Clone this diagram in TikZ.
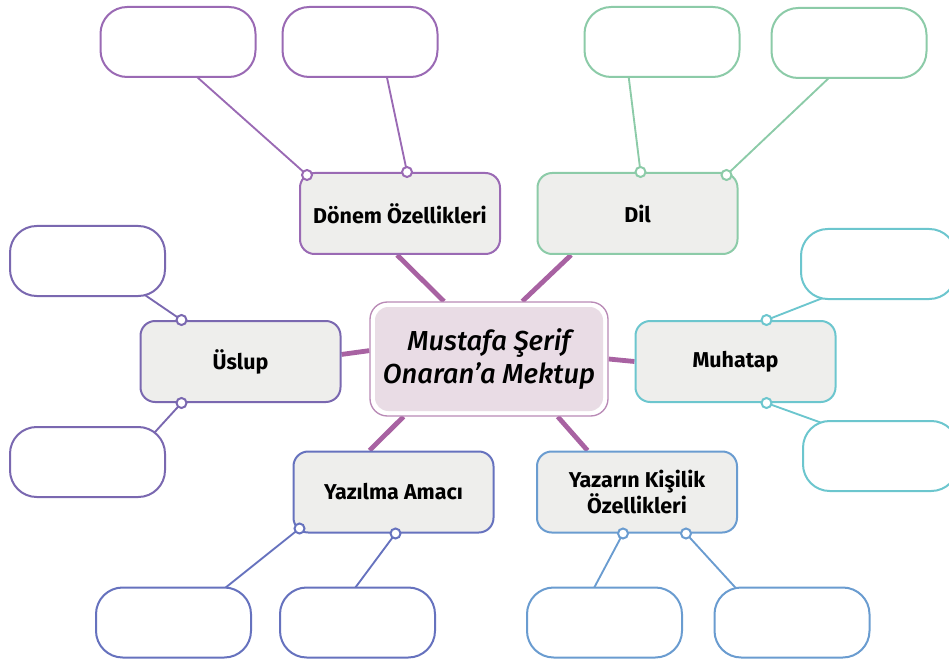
\documentclass[tikz,border=0pt]{standalone}
\usepackage{fontspec}
\setmainfont{Fira Sans}
\newfontfamily\ctrfont{Fira Sans Medium Italic}
\usetikzlibrary{calc,backgrounds}

\definecolor{colDonem}{HTML}{9A6AB4}
\definecolor{colDil}{HTML}{8CCBA8}
\definecolor{colUslup}{HTML}{7A68B0}
\definecolor{colMuhatap}{HTML}{6CC6CE}
\definecolor{colAmac}{HTML}{6672BE}
\definecolor{colKisilik}{HTML}{6A9CD0}
\definecolor{spokecol}{HTML}{A862A2}
\definecolor{ctrline}{HTML}{B98AB6}
\definecolor{ctrfill}{HTML}{E9DCE5}
\definecolor{catfill}{HTML}{EEEEEC}

\begin{document}
\begin{tikzpicture}[x=0.75pt,y=-0.75pt]
\useasboundingbox (0,0) rectangle (949,659);
\tikzset{
  cat/.style={draw=#1, fill=catfill, line width=1.5pt, rounded corners=11pt,
    minimum width=150pt, minimum height=60.75pt, inner sep=0pt, align=center,
    font=\fontsize{16.1}{20}\selectfont\bfseries, text=black},
  leaf/.style={draw=#1, fill=white, line width=1.5pt, rounded corners=20pt,
    minimum width=116.25pt, minimum height=52.5pt, inner sep=0pt},
  spoke/.style={draw=spokecol, line width=3.6pt},
  twig/.style={draw=#1, line width=1.4pt},
  dot/.style={fill=white, draw=#1, line width=1.5pt},
}

% central topic with a double frame
\node[draw=ctrline, fill=white, line width=1pt, rounded corners=13pt,
      minimum width=178.5pt, minimum height=85.5pt, inner sep=0pt, align=center,
      font=\fontsize{20.6}{25}\selectfont\ctrfont,
      path picture={\fill[ctrfill, rounded corners=10pt]
        ($(path picture bounding box.north west)+(5,5)$) rectangle
        ($(path picture bounding box.south east)+(-5,-5)$);}]
  (ctr) at (489,359) {Mustafa Şerif\\Onaran’a Mektup};

% branch topics
\node[cat=colDonem]   (don) at (400,213.5) {Dönem Özellikleri};
\node[cat=colDil]     (dil) at (637.5,213.5) {Dil};
\node[cat=colUslup]   (usl) at (240.5,361.5) {Üslup};
\node[cat=colMuhatap] (muh) at (735.5,361.5) {Muhatap};
\node[cat=colAmac]    (yzm) at (393.5,492) {Yazılma Amacı};
\node[cat=colKisilik] (yzr) at (637,492) {Yazarın Kişilik\\Özellikleri};

% empty answer boxes
\node[leaf=colDonem]   (la) at (178,42) {};
\node[leaf=colDonem]   (lb) at (360,42) {};
\node[leaf=colDil]     (lc) at (662,42) {};
\node[leaf=colDil]     (ld) at (849,43) {};
\node[leaf=colUslup]   (le) at (87.5,261) {};
\node[leaf=colUslup]   (lf) at (87.5,462) {};
\node[leaf=colMuhatap] (lg) at (878.5,264) {};
\node[leaf=colMuhatap] (lh) at (880.5,456) {};
\node[leaf=colAmac]    (li) at (173.5,622.5) {};
\node[leaf=colAmac]    (lj) at (357.5,622.5) {};
\node[leaf=colKisilik] (lk) at (604.5,622.5) {};
\node[leaf=colKisilik] (ll) at (792,622.5) {};

% connection points on the branch topics
\coordinate (d1)  at ($(don.north west)+(8,3)$);
\coordinate (d2)  at ($(don.north west)+(108,0)$);
\coordinate (d3)  at ($(dil.north west)+(104,0)$);
\coordinate (d4)  at ($(dil.north west)+(190,3)$);
\coordinate (d5)  at ($(usl.north west)+(42,0)$);
\coordinate (d6)  at ($(usl.south west)+(42,0)$);
\coordinate (d7)  at ($(muh.north west)+(132,0)$);
\coordinate (d8)  at ($(muh.south west)+(132,0)$);
\coordinate (d9)  at ($(yzm.south west)+(7,-5)$);
\coordinate (d10) at ($(yzm.south west)+(103,0)$);
\coordinate (d11) at ($(yzr.south west)+(87,0)$);
\coordinate (d12) at ($(yzr.south west)+(150,0)$);

\begin{scope}[on background layer]
  % thick spokes from the central topic
  \draw[spoke] (ctr.128.3) -- (don.266);
  \draw[spoke] (ctr.60)    -- (dil.212.5);
  \draw[spoke] (ctr.176)   -- (usl.4.3);
  \draw[spoke] (ctr.0.5)   -- (muh.180);
  \draw[spoke] (ctr.214)   -- (yzm.120.4);
  \draw[spoke] (ctr.-40.8) -- (yzr.140);
  % thin lines to the answer boxes
  \draw[twig=colDonem]   (d1)  -- ($(la.center)+(11.5,28.3)$);
  \draw[twig=colDonem]   (d2)  -- ($(lb.center)+(24.8,25.2)$);
  \draw[twig=colDil]     (d3)  -- ($(lc.center)+(-34.4,26.1)$);
  \draw[twig=colDil]     (d4)  -- ($(ld.center)+(-13.8,29)$);
  \draw[twig=colUslup]   (d5)  -- ($(le.center)+(47.4,27.2)$);
  \draw[twig=colUslup]   (d6)  -- ($(lf.center)+(60.8,-22.6)$);
  \draw[twig=colMuhatap] (d7)  -- ($(lg.center)+(-46.2,30.3)$);
  \draw[twig=colMuhatap] (d8)  -- ($(lh.center)+(-49.1,-29.6)$);
  \draw[twig=colAmac]    (d9)  -- ($(li.center)+(43.7,-28.2)$);
  \draw[twig=colAmac]    (d10) -- ($(lj.center)+(-8.4,-26.5)$);
  \draw[twig=colKisilik] (d11) -- ($(lk.center)+(-15.2,-25.7)$);
  \draw[twig=colKisilik] (d12) -- ($(ll.center)+(-49.4,-27)$);
\end{scope}

% small rings where the lines meet the branch topics
\path[dot=colDonem]   (d1)  circle (5) (d2)  circle (5);
\path[dot=colDil]     (d3)  circle (5) (d4)  circle (5);
\path[dot=colUslup]   (d5)  circle (5) (d6)  circle (5);
\path[dot=colMuhatap] (d7)  circle (5) (d8)  circle (5);
\path[dot=colAmac]    (d9)  circle (5) (d10) circle (5);
\path[dot=colKisilik] (d11) circle (5) (d12) circle (5);
\end{tikzpicture}
\end{document}
